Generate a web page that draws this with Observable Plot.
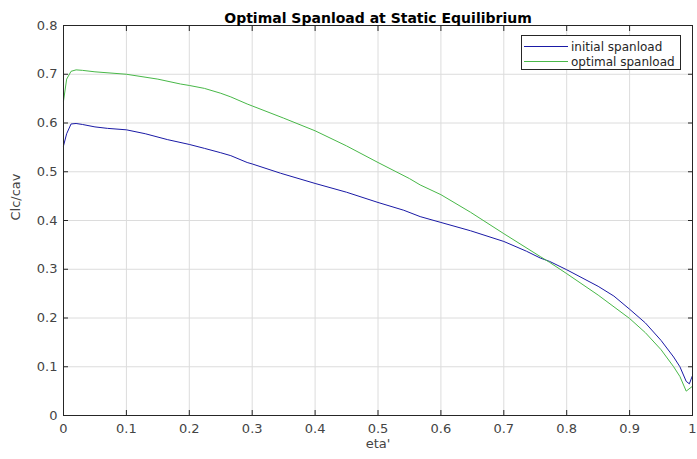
<!DOCTYPE html>
<html>
<head>
<meta charset="utf-8">
<script src="https://cdn.jsdelivr.net/npm/d3@7"></script>
<script src="https://cdn.jsdelivr.net/npm/@observablehq/plot@0.6"></script>
<style>
  html, body { margin: 0; padding: 0; background: #fff; }
  #wrap { position: relative; width: 697px; height: 459px; font-family: "DejaVu Sans", sans-serif; }
  #legend { position: absolute; left: 521px; top: 35px; width: 160px; height: 35px; border: 1px solid #262626; background: #fff; box-sizing: border-box; font-size: 12px; color: #262626; }
  .row { position: absolute; left: 2px; height: 15px; display: flex; align-items: center; }
  .sw { width: 44px; height: 0; border-top: 1px solid; margin-right: 3px; }
</style>
</head>
<body>
<div id="wrap"></div>
<script>
const title = "Optimal Spanload at Static Equilibrium";
const xLabel = "eta'";
const yLabel = "Clc/cav";
const seriesNames = ["initial spanload", "optimal spanload"];
const seriesColors = ["#1a1aa6", "#48b848"];
const xTicks = [0, 0.1, 0.2, 0.3, 0.4, 0.5, 0.6, 0.7, 0.8, 0.9, 1];
const yTicks = [0, 0.1, 0.2, 0.3, 0.4, 0.5, 0.6, 0.7, 0.8];

const etaInit = [0, 0.005, 0.012, 0.02, 0.03, 0.05, 0.07, 0.1, 0.13, 0.165, 0.2, 0.224, 0.25, 0.266, 0.292, 0.3, 0.345, 0.4, 0.45, 0.5, 0.541, 0.567, 0.6, 0.647, 0.7, 0.736, 0.758, 0.773, 0.8, 0.85, 0.875, 0.9, 0.925, 0.95, 0.97, 0.98, 0.99, 0.995, 1.0];
const clInit = [0.553, 0.578, 0.598, 0.599, 0.597, 0.592, 0.589, 0.586, 0.578, 0.566, 0.556, 0.548, 0.539, 0.533, 0.519, 0.516, 0.497, 0.476, 0.458, 0.437, 0.421, 0.408, 0.396, 0.379, 0.357, 0.337, 0.323, 0.316, 0.299, 0.265, 0.245, 0.218, 0.19, 0.154, 0.12, 0.1, 0.07, 0.065, 0.082];

const etaOpt = [0, 0.005, 0.012, 0.02, 0.03, 0.05, 0.1, 0.15, 0.186, 0.2, 0.224, 0.25, 0.266, 0.292, 0.3, 0.35, 0.4, 0.45, 0.5, 0.55, 0.567, 0.6, 0.647, 0.7, 0.758, 0.773, 0.8, 0.85, 0.9, 0.925, 0.95, 0.97, 0.98, 0.99, 1.0];
const clOpt = [0.645, 0.69, 0.706, 0.709, 0.708, 0.705, 0.70, 0.69, 0.68, 0.677, 0.671, 0.661, 0.6535, 0.639, 0.635, 0.61, 0.584, 0.553, 0.519, 0.486, 0.473, 0.453, 0.417, 0.373, 0.326, 0.314, 0.291, 0.247, 0.199, 0.17, 0.135, 0.1, 0.08, 0.05, 0.06];

const initData = etaInit.map((x, i) => ({x, y: clInit[i]}));
const optData = etaOpt.map((x, i) => ({x, y: clOpt[i]}));

const axisColor = "#262626";
const font = "DejaVu Sans, sans-serif";

const plot = Plot.plot({
  width: 697,
  height: 459,
  marginLeft: 63,
  marginRight: 5,
  marginTop: 25,
  marginBottom: 44,
  style: {fontFamily: font, fontSize: "13px", color: axisColor, background: "#fff"},
  x: {domain: [0, 1], ticks: xTicks},
  y: {domain: [0, 0.8], ticks: yTicks},
  marks: [
    Plot.gridX(xTicks, {stroke: "#dcdcdc", strokeOpacity: 1}),
    Plot.gridY(yTicks, {stroke: "#dcdcdc", strokeOpacity: 1}),
    Plot.line(initData, {x: "x", y: "y", stroke: seriesColors[0], strokeWidth: 1}),
    Plot.line(optData, {x: "x", y: "y", stroke: seriesColors[1], strokeWidth: 1}),
    Plot.frame({stroke: axisColor, strokeWidth: 1}),
    Plot.axisX({anchor: "bottom", ticks: xTicks, tickSize: -5, tickFormat: () => "", label: null, stroke: axisColor}),
    Plot.axisX({anchor: "top", ticks: xTicks, tickSize: -5, tickFormat: () => "", label: null, stroke: axisColor}),
    Plot.axisY({anchor: "left", ticks: yTicks, tickSize: -5, tickFormat: () => "", label: null, stroke: axisColor}),
    Plot.axisY({anchor: "right", ticks: yTicks, tickSize: -5, tickFormat: () => "", label: null, stroke: axisColor}),
    Plot.axisX({anchor: "bottom", ticks: xTicks, tickSize: 0, tickPadding: 8, tickFormat: d => String(d), label: null, fill: "#444", fontSize: 13}),
    Plot.axisY({anchor: "left", ticks: yTicks, tickSize: 0, tickPadding: 6, tickFormat: d => String(d), label: null, fill: "#444", fontSize: 13}),
    Plot.text([xLabel], {text: d => d, frameAnchor: "bottom", dy: 32, fontSize: 13, fill: "#444"}),
    Plot.text([yLabel], {text: d => d, frameAnchor: "left", rotate: -90, dx: -48, fontSize: 13, fill: "#444"}),
    Plot.text([title], {text: d => d, frameAnchor: "top", dy: -12, fontSize: 14, fontWeight: "bold", fill: "#000"})
  ]
});

const wrap = document.getElementById("wrap");
wrap.appendChild(plot);

const legend = document.createElement("div");
legend.id = "legend";
seriesNames.forEach((name, i) => {
  const row = document.createElement("div");
  row.className = "row";
  row.style.top = (3 + i * 15) + "px";
  const sw = document.createElement("span");
  sw.className = "sw";
  sw.style.borderTopColor = seriesColors[i];
  const t = document.createElement("span");
  t.textContent = name;
  row.appendChild(sw);
  row.appendChild(t);
  legend.appendChild(row);
});
wrap.appendChild(legend);
</script>
</body>
</html>
